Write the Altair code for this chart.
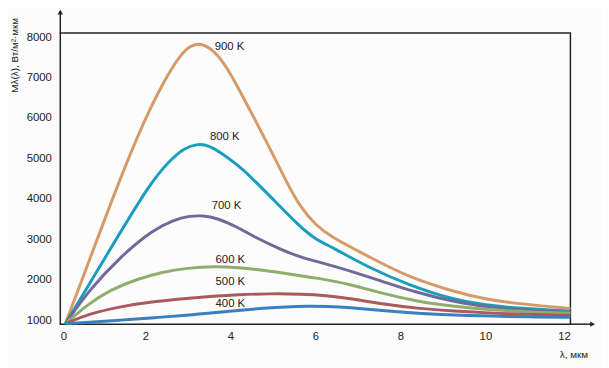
import altair as alt
import pandas as pd

# ---- data ----
series = ["900 K", "800 K", "700 K", "600 K", "500 K", "400 K"]
colors = ["#D69A68", "#1B9DBE", "#6E6A9A", "#8EAE6E", "#A85A5C", "#3A80BE"]

lam_900 = [0.12, 0.7, 1.39, 1.97, 2.43, 2.82, 3.05, 3.25, 3.5, 3.8, 4.1, 4.56, 4.93, 5.32, 5.63, 6.02, 6.4, 6.78, 7.57, 8.17, 9.26, 10.0, 10.8, 12]
val_900 = [910, 2530, 4460, 5930, 6900, 7560, 7780, 7850, 7760, 7450, 6920, 6000, 5250, 4420, 3820, 3330, 3050, 2830, 2400, 2080, 1700, 1520, 1400, 1290]

lam_800 = [0.12, 1.04, 2.15, 2.59, 2.9, 3.24, 3.5, 3.77, 4.2, 4.56, 5.09, 5.63, 6.0, 6.4, 7.25, 8.17, 9.26, 10.0, 10.8, 12]
val_800 = [910, 2520, 4460, 4960, 5250, 5370, 5320, 5150, 4820, 4460, 3900, 3320, 3000, 2800, 2300, 1880, 1500, 1370, 1290, 1220]

lam_700 = [0.12, 0.65, 1.43, 2.2, 2.7, 3.0, 3.35, 3.7, 4.17, 4.56, 5.16, 5.63, 6.25, 6.78, 7.57, 8.33, 9.26, 10.2, 11, 12]
val_700 = [910, 1710, 2590, 3250, 3490, 3570, 3590, 3520, 3300, 3060, 2760, 2560, 2390, 2230, 1960, 1700, 1450, 1310, 1240, 1190]

lam_600 = [0.12, 0.65, 1.2, 1.8, 2.4, 3.0, 3.6, 4.2, 4.8, 5.4, 6.1, 6.78, 7.57, 8.4, 9.26, 10.2, 11, 12]
val_600 = [910, 1400, 1760, 2010, 2190, 2290, 2330, 2300, 2230, 2140, 2030, 1900, 1660, 1460, 1340, 1250, 1200, 1170]

lam_500 = [0.12, 0.65, 1.43, 2.2, 3.0, 3.6, 4.17, 4.93, 5.7, 6.25, 6.78, 7.57, 8.4, 9.26, 10.2, 11, 12]
val_500 = [910, 1150, 1340, 1460, 1540, 1590, 1630, 1655, 1645, 1610, 1540, 1400, 1290, 1220, 1170, 1140, 1120]

lam_400 = [0.12, 0.65, 1.43, 2.2, 3.0, 3.6, 4.17, 4.8, 5.32, 5.8, 6.3, 6.78, 7.57, 8.4, 9.26, 10.2, 11, 12]
val_400 = [910, 940, 1000, 1060, 1120, 1180, 1240, 1295, 1330, 1345, 1340, 1315, 1235, 1165, 1120, 1100, 1080, 1070]

label_x = [3.98, 3.87, 3.91, 4.0, 4.0, 4.0]
label_y = [7760, 5540, 3830, 2490, 1930, 1390]

x_ticks = [0, 2, 4, 6, 8, 10, 12]
y_ticks = [1000, 2000, 3000, 4000, 5000, 6000, 7000, 8000]
x_domain = [0, 12]
y_domain = [900, 8100]

# ---- build tables ----
lams = [lam_900, lam_800, lam_700, lam_600, lam_500, lam_400]
vals = [val_900, val_800, val_700, val_600, val_500, val_400]
rows = []
for s, ls, vs in zip(series, lams, vals):
    for l, v in zip(ls, vs):
        rows.append({"series": s, "lam": l, "val": v})
df = pd.DataFrame(rows)
labels = pd.DataFrame({"series": series, "lam": label_x, "val": label_y})

FONT = "Liberation Sans"

xs = alt.Scale(domain=x_domain, nice=False, zero=False)
ys = alt.Scale(domain=y_domain, nice=False, zero=False)

xax = alt.Axis(values=x_ticks, ticks=False, domain=False, grid=False, labelPadding=7,
               labelFontSize=11.5, labelFont=FONT, labelColor="#222", format="d",
               title="λ, мкм", titleFont=FONT, titleFontSize=10, titleFontWeight="normal",
               titleColor="#222", titleX=520, titleY=31, titleAlign="center",
               titleBaseline="middle", titleAngle=0)
yax = alt.Axis(values=y_ticks, ticks=False, domain=False, grid=False, labelPadding=9,
               labelFontSize=11.5, labelFont=FONT, labelColor="#222", format="d",
               title="Mλ(λ), Вт/м²·мкм", titleFont=FONT, titleFontSize=10,
               titleFontWeight="normal", titleColor="#222", titleX=-46, titleY=22,
               titleAngle=270, titleAlign="center", titleBaseline="middle")

lines = alt.Chart(df).mark_line(strokeWidth=3, interpolate="basis").encode(
    x=alt.X("lam:Q", scale=xs, axis=xax),
    y=alt.Y("val:Q", scale=ys, axis=yax),
    color=alt.Color("series:N", scale=alt.Scale(domain=series, range=colors), legend=None),
    detail="series:N",
)

texts = alt.Chart(labels).mark_text(font=FONT, fontSize=11.5, color="#222",
                                    align="center", baseline="middle").encode(
    x=alt.X("lam:Q", scale=xs),
    y=alt.Y("val:Q", scale=ys),
    text="series:N",
)

# axis arrow extensions
yext = pd.DataFrame({"x": [0], "y": [8100], "y2": [8640]})
xext = pd.DataFrame({"x": [12], "x2": [12.55], "y": [900]})
yrule = alt.Chart(yext).mark_rule(color="#222", strokeWidth=1.5).encode(
    x=alt.X("x:Q", scale=xs), y=alt.Y("y:Q", scale=ys), y2="y2:Q")
xrule = alt.Chart(xext).mark_rule(color="#222", strokeWidth=1.5).encode(
    x=alt.X("x:Q", scale=xs), x2="x2:Q", y=alt.Y("y:Q", scale=ys))
yhead = alt.Chart(pd.DataFrame({"x": [0], "y": [8620]})).mark_point(
    shape="triangle-up", filled=True, size=30, color="#222", opacity=1).encode(
    x=alt.X("x:Q", scale=xs), y=alt.Y("y:Q", scale=ys))
xhead = alt.Chart(pd.DataFrame({"x": [12.52], "y": [900]})).mark_point(
    shape="triangle-right", filled=True, size=30, color="#222", opacity=1).encode(
    x=alt.X("x:Q", scale=xs), y=alt.Y("y:Q", scale=ys))

chart = alt.layer(lines, texts, yrule, xrule, yhead, xhead).properties(
    width=517, height=295,
    autosize=alt.AutoSizeParams(type="none"),
    padding={"left": 53, "top": 23, "right": 31, "bottom": 42},
    background="#FBFCFB",
).configure_view(stroke="#222", strokeWidth=1.5)

chart.save("out.html", embed_options={"renderer": "svg", "actions": False})
